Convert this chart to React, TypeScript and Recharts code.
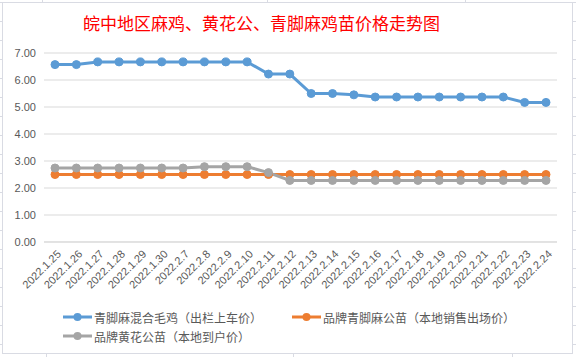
import { LineChart, Line, XAxis, YAxis, CartesianGrid } from 'recharts';

const dates = [
  '2022.1.25', '2022.1.26', '2022.1.27', '2022.1.28', '2022.1.29', '2022.1.30',
  '2022.2.7', '2022.2.8', '2022.2.9', '2022.2.10', '2022.2.11', '2022.2.12',
  '2022.2.13', '2022.2.14', '2022.2.15', '2022.2.16', '2022.2.17', '2022.2.18',
  '2022.2.19', '2022.2.20', '2022.2.21', '2022.2.22', '2022.2.23', '2022.2.24',
];

// 青脚麻混合毛鸡（出栏上车价）
const mixedChicken = [
  6.57, 6.57, 6.67, 6.67, 6.67, 6.67, 6.67, 6.67, 6.67, 6.67, 6.22, 6.22,
  5.5, 5.5, 5.45, 5.37, 5.37, 5.37, 5.37, 5.37, 5.37, 5.37, 5.17, 5.17,
];

// 品牌青脚麻公苗（本地销售出场价）
const qingjiaoChick = [
  2.5, 2.5, 2.5, 2.5, 2.5, 2.5, 2.5, 2.5, 2.5, 2.5, 2.5, 2.5,
  2.5, 2.5, 2.5, 2.5, 2.5, 2.5, 2.5, 2.5, 2.5, 2.5, 2.5, 2.5,
];

// 品牌黄花公苗（本地到户价）
const huanghuaChick = [
  2.74, 2.74, 2.74, 2.74, 2.74, 2.74, 2.74, 2.79, 2.79, 2.79, 2.57, 2.28,
  2.28, 2.28, 2.28, 2.28, 2.28, 2.28, 2.28, 2.28, 2.28, 2.28, 2.28, 2.28,
];

const yTicks = [0, 1, 2, 3, 4, 5, 6, 7];

const series = [
  { key: 'mixed', name: '青脚麻混合毛鸡（出栏上车价）', color: '#5B9BD5' },
  { key: 'qingjiao', name: '品牌青脚麻公苗（本地销售出场价）', color: '#ED7D31' },
  { key: 'huanghua', name: '品牌黄花公苗（本地到户价）', color: '#A5A5A5' },
];

const data = dates.map((date, i) => ({
  date,
  mixed: mixedChicken[i],
  qingjiao: qingjiaoChick[i],
  huanghua: huanghuaChick[i],
}));

const TEXT = '#595959';
const SHEET_LINE = '#D9DBE3';

interface TickProps {
  x?: number;
  y?: number;
  payload?: { value: string };
}

function DateTick({ x = 0, y = 0, payload }: TickProps) {
  return (
    <g transform={`translate(${x + 4},${y + 2}) rotate(-45)`}>
      <text
        x={0}
        y={0}
        dy="0.35em"
        textAnchor="end"
        fill={TEXT}
        fontSize={11}
        fontFamily="'Liberation Sans', Arial, sans-serif"
      >
        {payload?.value}
      </text>
    </g>
  );
}

function LegendItem({ name, color, left, top }: { name: string; color: string; left: number; top: number }) {
  return (
    <div style={{ position: 'absolute', left, top, display: 'flex', alignItems: 'center', height: 18 }}>
      <svg width={30} height={12} style={{ marginRight: 1 }}>
        <line x1={0} y1={6} x2={29} y2={6} stroke={color} strokeWidth={3} />
        <circle cx={14.5} cy={6} r={4} fill={color} />
      </svg>
      <span style={{ fontSize: 12, color: TEXT, fontFamily: "'Noto Sans CJK SC', sans-serif", whiteSpace: 'nowrap' }}>
        {name}
      </span>
    </div>
  );
}

const sheetRows = Array.from({ length: 19 }, (_, i) => 2 + i * 19);

export default function App() {
  return (
    <div
      style={{
        position: 'fixed',
        left: 0,
        top: 0,
        width: 576,
        height: 357,
        background: '#fff',
        overflow: 'hidden',
      }}
    >
      {sheetRows.map((y) => (
        <div key={y} style={{ position: 'absolute', left: 0, top: y, width: 576, height: 1, background: SHEET_LINE }} />
      ))}
      {[42, 267, 465].map((x) => (
        <div key={`t${x}`} style={{ position: 'absolute', left: x, top: 0, width: 1, height: 4, background: SHEET_LINE }} />
      ))}
      {[46, 293, 512].map((x) => (
        <div key={`b${x}`} style={{ position: 'absolute', left: x, top: 352, width: 1, height: 5, background: SHEET_LINE }} />
      ))}
      <div
        style={{
          position: 'absolute',
          left: 2,
          top: 2,
          width: 569,
          height: 350,
          background: '#fff',
          border: `1px solid ${SHEET_LINE}`,
        }}
      />
      <div
        style={{
          position: 'absolute',
          left: 83,
          top: 12,
          fontSize: 17,
          lineHeight: '22px',
          color: '#FF0000',
          fontFamily: "'Noto Sans CJK SC', sans-serif",
          whiteSpace: 'nowrap',
        }}
      >
        皖中地区麻鸡、黄花公、青脚麻鸡苗价格走势图
      </div>
      <div style={{ position: 'absolute', left: 0, top: 0 }}>
        <LineChart width={576} height={357} data={data} margin={{ top: 53, right: 19, left: 4, bottom: 0 }}>
          <CartesianGrid vertical={false} stroke="#D9D9D9" />
          <XAxis
            dataKey="date"
            interval={0}
            height={115}
            tick={<DateTick />}
            tickLine={false}
            axisLine={{ stroke: '#D9D9D9' }}
            padding={{ left: 11, right: 11 }}
          />
          <YAxis
            domain={[0, 7]}
            ticks={yTicks}
            width={40}
            tickFormatter={(v: number) => v.toFixed(2)}
            tick={{ fontSize: 11, fill: TEXT, fontFamily: "'Liberation Sans', Arial, sans-serif" }}
            tickLine={false}
            axisLine={false}
          />
          {series.map((s) => (
            <Line
              key={s.key}
              type="linear"
              dataKey={s.key}
              name={s.name}
              stroke={s.color}
              strokeWidth={3}
              dot={{ r: 4, fill: s.color, stroke: s.color, strokeWidth: 1 }}
              isAnimationActive={false}
            />
          ))}
        </LineChart>
      </div>
      <LegendItem name={series[0].name} color={series[0].color} left={63} top={308} />
      <LegendItem name={series[1].name} color={series[1].color} left={292} top={308} />
      <LegendItem name={series[2].name} color={series[2].color} left={63} top={327} />
    </div>
  );
}
